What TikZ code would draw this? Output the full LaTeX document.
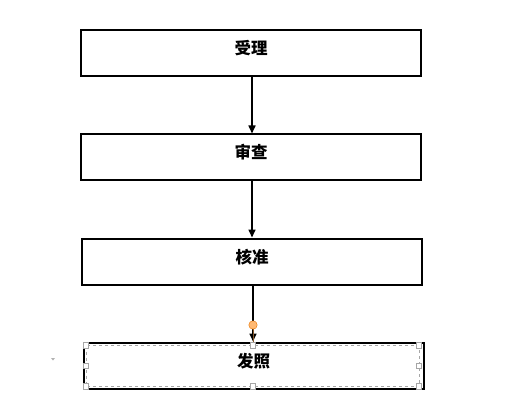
\documentclass[tikz,border=0pt]{standalone}
\usepackage{fontspec}
\newfontfamily\cjk{Noto Sans CJK SC}
\usetikzlibrary{arrows.meta}
\begin{document}
\begin{tikzpicture}[x=1pt,y=-1pt,
  procbox/.style={draw=black,line width=2pt,minimum width=340pt,minimum height=46pt,inner sep=0pt,text height=12pt,text depth=9pt,font=\cjk\bfseries\fontsize{16.5pt}{18pt}\selectfont},
  flow/.style={line width=1.6pt,-{Triangle[length=8pt,width=7pt]}},
  handle/.style={draw=gray!70,fill=white,line width=0.6pt,minimum size=5.5pt,inner sep=0pt}]
\useasboundingbox (0,0) rectangle (518,403);
\node[procbox] (a) at (251,53.5) {受理};
\node[procbox] (b) at (251,157.5) {审查};
\node[procbox] (c) at (252,261.5) {核准};
\node[procbox] (d) at (253.5,365.5) {发照};
\coordinate (a1) at (252,0);
\coordinate (c1) at (253,0);
\draw[flow] (a1 |- a.south) -- (a1 |- b.north);
\draw[flow] (a1 |- b.south) -- (a1 |- c.north);
\draw[flow] (c1 |- c.south) -- (c1 |- d.north);
% selection marks
\draw[gray!70,dashed,line width=0.4pt] (86,345.5) rectangle (419,386.5);
\coordinate (dot) at (253,325);
\draw[brown!70!black,line width=0.5pt] (dot) -- (c1 |- d.north);
\fill[orange!55!white,draw=orange!70!brown,line width=0.5pt] (dot) circle (4.2pt);
\foreach \hx/\hy in {86/345.5,253/345.5,419/345.5,86/366,419/366,86/386.5,253/386.5,419/386.5}
  \node[handle] at (\hx,\hy) {};
\fill[gray!60] (51,358) -- (55,358) -- (53,360.5) -- cycle;
\end{tikzpicture}
\end{document}
